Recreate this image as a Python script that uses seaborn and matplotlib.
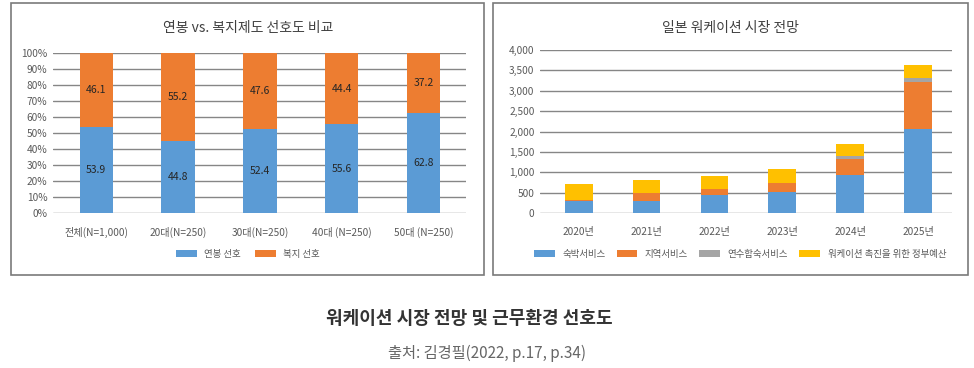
import numpy as np
import pandas as pd
import seaborn as sns
from matplotlib import pyplot as plt
from matplotlib.patches import Rectangle
from matplotlib.ticker import FuncFormatter

# left chart: salary vs welfare preference (%)
groups = ['전체(N=1,000)', '20대(N=250)', '30대(N=250)', '40대 (N=250)', '50대 (N=250)']
salary_pref = [53.9, 44.8, 52.4, 55.6, 62.8]
welfare_pref = [46.1, 55.2, 47.6, 44.4, 37.2]

# right chart: japan workation market outlook
years = ['2020년', '2021년', '2022년', '2023년', '2024년', '2025년']
lodging = [285, 300, 430, 520, 940, 2060]
regional = [40, 180, 170, 220, 390, 1150]
training = [0, 0, 0, 0, 80, 100]
gov_budget = [390, 335, 310, 345, 290, 320]

sns.set_theme(style='white')
plt.rcParams['font.family'] = ['Noto Sans CJK KR', 'DejaVu Sans']

BLUE = '#5B9BD5'
ORANGE = '#ED7D31'
GRAY = '#A5A5A5'
YELLOW = '#FFC000'
TXT = '#595959'
GRID = '#868686'

fig = plt.figure(figsize=(9.74, 3.68), dpi=100)
W, H = 974, 368

def fx(px):
    return px / W

def fy(py):
    return 1 - py / H

# panel borders
for x0, x1 in [(11, 484), (493, 968)]:
    fig.patches.append(Rectangle((fx(x0), fy(275)), fx(x1 - x0), (275 - 3) / H,
                                 transform=fig.transFigure, fill=False,
                                 edgecolor='#7a7a7a', lw=1.2))

def style_axis(ax):
    for s in ax.spines.values():
        s.set_visible(False)
    ax.grid(axis='y', color=GRID, lw=1)
    ax.grid(axis='x', visible=False)
    ax.set_axisbelow(True)
    ax.tick_params(length=0, labelsize=7.3, colors=TXT, pad=4)
    ax.set_xlabel('')
    ax.set_ylabel('')

bar_kw = dict(width=0.41, errorbar=None, saturation=1, linewidth=0)

# ---- left chart
ax1 = fig.add_axes([fx(53), fy(213), fx(466 - 53), (213 - 53) / H])
sns.barplot(x=groups, y=salary_pref, color=BLUE, label='연봉 선호', ax=ax1, **bar_kw)
sns.barplot(x=groups, y=welfare_pref, bottom=salary_pref, color=ORANGE,
            label='복지 선호', ax=ax1, **bar_kw)
for i, (a, b) in enumerate(zip(salary_pref, welfare_pref)):
    ax1.text(i, a / 2, f'{a:.1f}', ha='center', va='center', fontsize=7.5, color='#262626')
    ax1.text(i, a + b / 2, f'{b:.1f}', ha='center', va='center', fontsize=7.5, color='#262626')
ax1.set_ylim(0, 100)
ax1.set_xlim(-0.53, 4.52)
ax1.set_yticks(np.arange(0, 101, 10))
ax1.yaxis.set_major_formatter(FuncFormatter(lambda v, p: f'{int(v)}%'))
style_axis(ax1)
ax1.tick_params(axis='x', pad=10)
fig.text(fx(248), fy(28), '연봉 vs. 복지제도 선호도 비교', ha='center', va='center',
         fontsize=10, color='#404040')
ax1.legend(loc='center', bbox_to_anchor=(fx(248), fy(254)), bbox_transform=fig.transFigure,
           ncol=2, frameon=False, fontsize=6.8, handlelength=2.2, handleheight=0.8,
           columnspacing=1.5, labelcolor=TXT)

# ---- right chart
ax2 = fig.add_axes([fx(540), fy(213), fx(952 - 540), (213 - 50) / H])
b1 = np.array(lodging)
b2 = b1 + np.array(regional)
b3 = b2 + np.array(training)
sns.barplot(x=years, y=lodging, color=BLUE, label='숙박서비스', ax=ax2, **bar_kw)
sns.barplot(x=years, y=regional, bottom=b1, color=ORANGE, label='지역서비스',
            ax=ax2, **bar_kw)
sns.barplot(x=years, y=training, bottom=b2, color=GRAY, label='연수합숙서비스',
            ax=ax2, **bar_kw)
sns.barplot(x=years, y=gov_budget, bottom=b3, color=YELLOW,
            label='워케이션 촉진을 위한 정부예산', ax=ax2, **bar_kw)
ax2.set_ylim(0, 4000)
ax2.set_xlim(-0.57, 5.5)
ax2.set_yticks(np.arange(0, 4001, 500))
ax2.yaxis.set_major_formatter(FuncFormatter(lambda v, p: f'{int(v):,}'))
style_axis(ax2)
ax2.tick_params(axis='x', pad=10)
fig.text(fx(730), fy(28), '일본 워케이션 시장 전망', ha='center', va='center',
         fontsize=10, color='#404040')
ax2.legend(loc='center', bbox_to_anchor=(fx(740), fy(254)), bbox_transform=fig.transFigure,
           ncol=4, frameon=False, fontsize=6.8, handlelength=2.2, handleheight=0.8,
           columnspacing=1.2, labelcolor=TXT)

# caption
fig.text(fx(469), fy(319), '워케이션 시장 전망 및 근무환경 선호도', ha='center', va='center',
         fontsize=13, color='#333333', fontweight='bold')
fig.text(fx(487), fy(353), '출처: 김경필(2022, p.17, p.34)', ha='center', va='center',
         fontsize=11, color='#666666')

fig.savefig('out.png', dpi=100)
